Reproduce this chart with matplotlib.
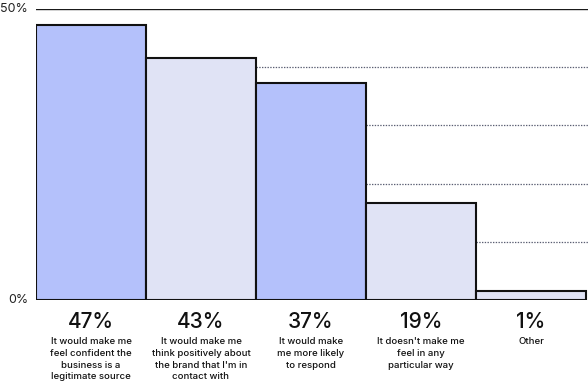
import matplotlib
matplotlib.use("Agg")
import matplotlib.pyplot as plt

bar_heights = [47.3, 41.6, 37.2, 16.6, 1.5]
pct_labels = ["47%", "43%", "37%", "19%", "1%"]
descriptions = [
    "It would make me\nfeel confident the\nbusiness is a\nlegitimate source",
    "It would make me\nthink positively about\nthe brand that I'm in\ncontact with",
    "It would make\nme more likely\nto respond",
    "It doesn't make me\nfeel in any\nparticular way",
    "Other",
]
colors = ["#b4c1fb", "#e0e3f5", "#b4c1fb", "#e0e3f5", "#e0e3f5"]
yticks = [0, 50]
ytick_labels = ["0%", "50%"]
grid_vals = [10, 20, 30, 40]

plt.rcParams['font.family'] = ['Inter', 'DejaVu Sans']

W, H = 588, 383
fig = plt.figure(figsize=(W / 100, H / 100), dpi=100)
left, right, bottom, top = 36, 588, 300, 9
ax = fig.add_axes([left / W, (H - bottom) / H, (right - left) / W, (bottom - top) / H])

x = list(range(len(bar_heights)))
for g in grid_vals:
    ax.axhline(g, color="#5a5e72", lw=0.9, ls=(0, (1.1, 1.1)), zorder=0)
ax.axhline(50, color="#1a1a1a", lw=1.0, zorder=1)
ax.bar(x, bar_heights, width=1.0, color=colors, edgecolor="#111111", linewidth=1.5, zorder=2)

ax.set_xlim(-0.5, 4.5 + 2 / 110)
ax.set_ylim(0, 50)
for s in ax.spines.values():
    s.set_visible(False)
ax.set_xticks([])
ax.set_yticks([])

for yv, lab in zip(yticks, ytick_labels):
    ax.annotate(lab, xy=(-0.5, yv), xytext=(-8, 0), textcoords="offset pixels",
                ha="right", va="center", fontsize=9, color="#222222", annotation_clip=False)

for xi, p, d in zip(x, pct_labels, descriptions):
    ax.annotate(p, xy=(xi, 0), xytext=(0, -22), textcoords="offset pixels",
                ha="center", va="center", fontsize=15, fontweight="medium",
                color="#111111", annotation_clip=False)
    ax.annotate(d, xy=(xi, 0), xytext=(0, -37), textcoords="offset pixels",
                ha="center", va="top", fontsize=6.9, color="#111111", linespacing=1.4,
                fontweight="medium", annotation_clip=False)

fig.savefig("out.png", dpi=100)
